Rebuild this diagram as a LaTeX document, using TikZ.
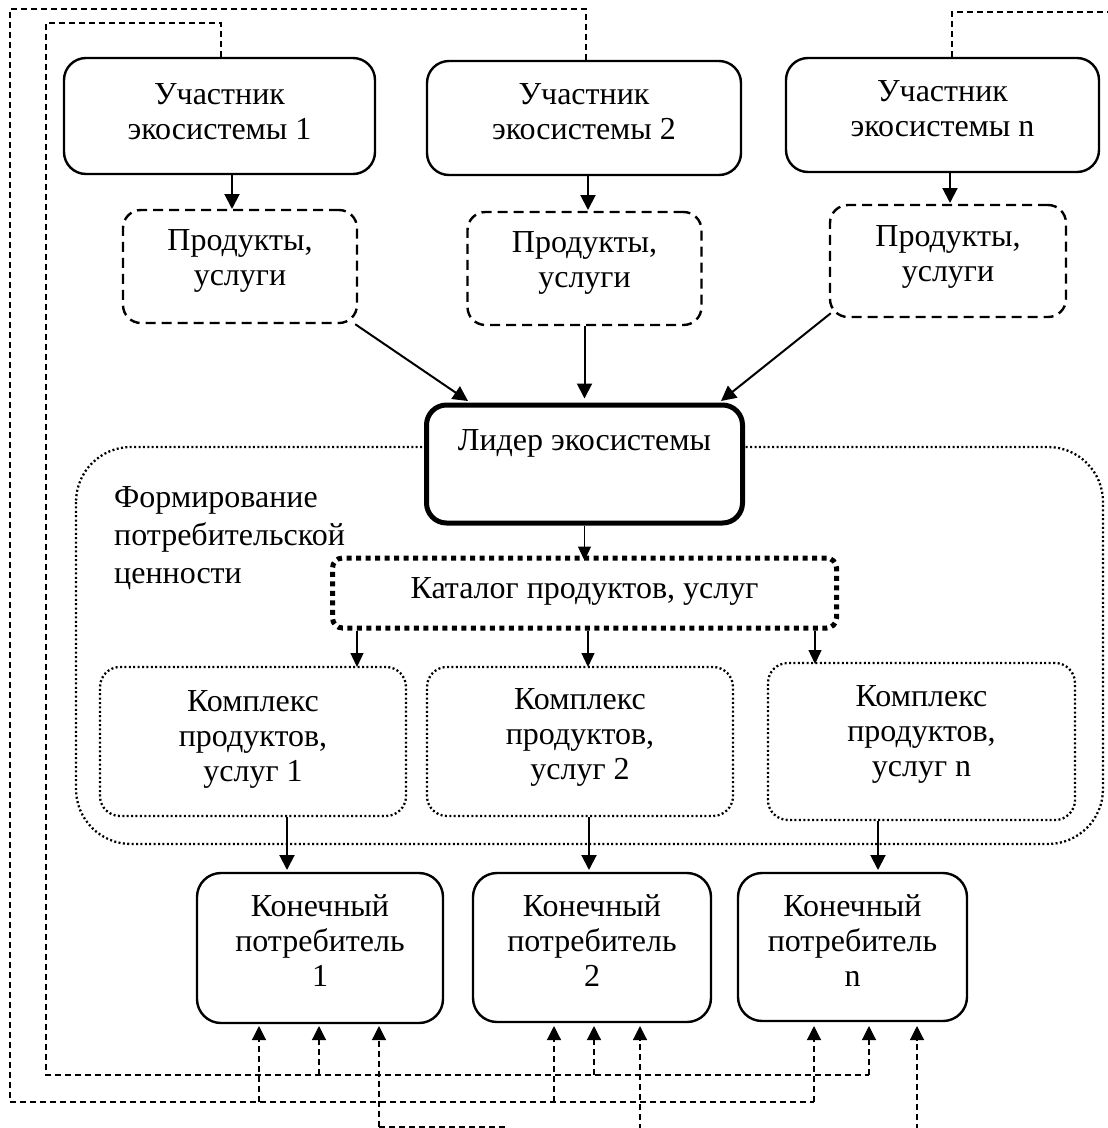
\documentclass[tikz,border=0pt]{standalone}
\usepackage{fontspec}
\setmainfont{Liberation Serif}
\usetikzlibrary{arrows.meta}
\newcommand\mainfs{\fontsize{32}{35}\selectfont}
\newcommand\formfs{\fontsize{32}{38}\selectfont}
\begin{document}
\begin{tikzpicture}[x=1pt,y=-1pt,
  pbox/.style={draw, line width=2.4pt, rounded corners=22pt, inner sep=0pt},
  prodbox/.style={draw, line width=2.4pt, dash pattern=on 10pt off 6pt, rounded corners=18pt, inner sep=0pt},
  leadbox/.style={draw, line width=5pt, rounded corners=20pt, fill=white, inner sep=0pt},
  catbox/.style={draw, line width=5pt, dash pattern=on 5pt off 4.5pt, rounded corners=10pt, inner sep=0pt},
  cplxbox/.style={draw, line width=2.3pt, dash pattern=on 2pt off 2.4pt, rounded corners=20pt, inner sep=0pt},
  consbox/.style={draw, line width=2.4pt, rounded corners=24pt, inner sep=0pt},
  region/.style={draw, line width=2.3pt, dash pattern=on 2pt off 2.4pt, rounded corners=55pt},
  txt/.style={align=center, inner sep=0pt, font=\mainfs, anchor=north},
  arr/.style={-{Triangle[length=15pt,width=15pt]}, line width=2pt},
  tarr/.style={-{Triangle[length=14pt,width=13pt]}, line width=1.3pt},
  fb/.style={line width=1.2pt, dash pattern=on 6pt off 4pt},
  fbarr/.style={fb, -{Triangle[length=14pt,width=14pt]}}
]
\useasboundingbox (0,0) rectangle (1108,1128);
\fill[white] (0,0) rectangle (1108,1128);

% big region
\draw[region] (76,447) rectangle (1103,844);
\node[inner sep=0pt, font=\formfs, anchor=north west, align=left] (form) at (114,486) {Формирование\\потребительской\\ценности};

% participants
\node[pbox, minimum width=311pt, minimum height=116pt] (p1) at (219.5,116) {};
\node[pbox, minimum width=314pt, minimum height=114pt] (p2) at (584,118) {};
\node[pbox, minimum width=313pt, minimum height=114pt] (pn) at (942.5,115) {};
\node[txt] (p1t) at (219.5,83) {Участник\\экосистемы 1};
\node[txt] (p2t) at (584,83) {Участник\\экосистемы 2};
\node[txt] (pnt) at (942.5,80) {Участник\\экосистемы n};

% products
\node[prodbox, minimum width=234pt, minimum height=113pt] (pr1) at (240,266.5) {};
\node[prodbox, minimum width=234pt, minimum height=113pt] (pr2) at (584.5,268.5) {};
\node[prodbox, minimum width=236pt, minimum height=112pt] (prn) at (948,261) {};
\node[txt] (pr1t) at (240,229) {Продукты,\\услуги};
\node[txt] (pr2t) at (584.5,231) {Продукты,\\услуги};
\node[txt] (prnt) at (948,225) {Продукты,\\услуги};

% leader
\node[leadbox, minimum width=316pt, minimum height=118pt] (lead) at (584.5,464) {};
\node[txt] (leadt) at (584.5,429) {Лидер экосистемы};

% catalog
\node[catbox, minimum width=504pt, minimum height=70pt] (cat) at (584.5,593) {};
\node[txt] (catt) at (584.5,577) {Каталог продуктов, услуг};

% complexes
\node[cplxbox, minimum width=306pt, minimum height=149pt] (cx1) at (253,741.5) {};
\node[cplxbox, minimum width=306pt, minimum height=149pt] (cx2) at (580,741.5) {};
\node[cplxbox, minimum width=307pt, minimum height=157pt] (cxn) at (921.5,741.5) {};
\node[txt] (cx1t) at (253,690) {Комплекс\\продуктов,\\услуг 1};
\node[txt] (cx2t) at (580,688) {Комплекс\\продуктов,\\услуг 2};
\node[txt] (cxnt) at (921.5,685) {Комплекс\\продуктов,\\услуг n};

% consumers
\node[consbox, minimum width=246pt, minimum height=150pt] (k1) at (320,948) {};
\node[consbox, minimum width=238pt, minimum height=149pt] (k2) at (592,947.5) {};
\node[consbox, minimum width=229pt, minimum height=148pt] (kn) at (852.5,947) {};
\node[txt] (k1t) at (320,894) {Конечный\\потребитель\\1};
\node[txt] (k2t) at (592,894) {Конечный\\потребитель\\2};
\node[txt] (knt) at (852.5,894) {Конечный\\потребитель\\n};

% participant -> products
\coordinate (a1) at (232,209);
\coordinate (a2) at (588,210);
\coordinate (an) at (950,203);
\draw[arr] (p1.south -| a1) -- (a1);
\draw[arr] (p2.south -| a2) -- (a2);
\draw[arr] (pn.south -| an) -- (an);

% products -> leader
\coordinate (b1) at (468,401);
\coordinate (bn) at (721,401);
\draw[arr] ([xshift=-3pt]pr1.south east) -- (b1);
\draw[arr] (pr2.south) -- ([yshift=4pt]lead.north);
\draw[arr] ([xshift=2pt,yshift=5pt]prn.south west) -- (bn);

% leader -> catalog
\draw[tarr] (lead.south) -- ([yshift=-5pt]cat.north);

% catalog -> complexes
\coordinate (c1a) at (357,667);
\coordinate (c2a) at (588,667);
\coordinate (cna) at (815,664);
\draw[tarr] (cat.south -| c1a) -- (c1a);
\draw[tarr] (cat.south -| c2a) -- (c2a);
\draw[tarr] (cat.south -| cna) -- (cna);

% complexes -> consumers
\coordinate (d1) at (287,870);
\coordinate (d2) at (589,870);
\coordinate (dn) at (878,870);
\draw[arr] (cx1.south -| d1) -- (d1);
\draw[arr] (cx2.south -| d2) -- (d2);
\draw[arr] (cxn.south -| dn) -- (dn);

% feedback loop from participant 1 (inner)
\coordinate (la1) at (319,1075);
\coordinate (la2) at (594,1075);
\coordinate (la3) at (869,1075);
\draw[fb] ([xshift=1.5pt]p1.north) -- (221,23) -- (46,23) -- (46,1075) -- (la3);
\draw[fbarr] (la1) -- (319,1026);
\draw[fbarr] (la2) -- (594,1026);
\draw[fbarr] (la3) -- (869,1026);

% feedback loop from participant 2 (outer)
\coordinate (lb1) at (259,1102);
\coordinate (lb2) at (554,1102);
\coordinate (lb3) at (814,1102);
\draw[fb] ([xshift=2pt]p2.north) -- (586,9) -- (10,9) -- (10,1102) -- (lb3);
\draw[fbarr] (lb1) -- (259,1026);
\draw[fbarr] (lb2) -- (554,1026);
\draw[fbarr] (lb3) -- (814,1026);

% feedback loop from participant n (cut by the frame)
\coordinate (lc1) at (379,1127);
\coordinate (lc2) at (640,1130);
\coordinate (lc3) at (917,1130);
\draw[fb] ([xshift=9.5pt]pn.north) -- (952,12) -- (1110,12);
\draw[fb] (505,1127) -- (lc1);
\draw[fbarr] (lc1) -- (379,1026);
\draw[fbarr] (lc2) -- (640,1026);
\draw[fbarr] (lc3) -- (917,1026);
\end{tikzpicture}
\end{document}
